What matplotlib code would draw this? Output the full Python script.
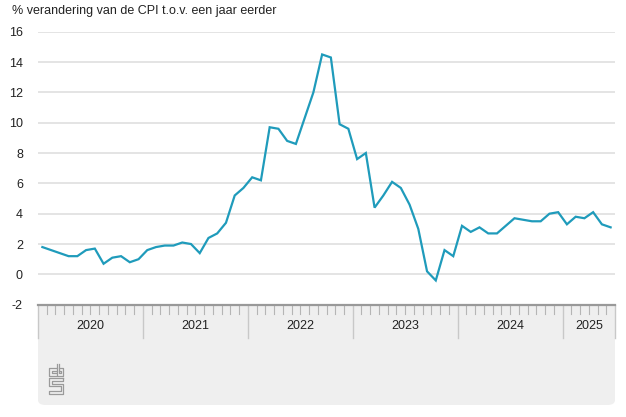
import numpy as np
import matplotlib
matplotlib.use("Agg")
import matplotlib.pyplot as plt
from matplotlib.patches import FancyBboxPatch, Rectangle

plt.rcParams['font.family'] = ['Liberation Sans', 'DejaVu Sans']

# CPI, % verandering t.o.v. een jaar eerder, jan 2020 - jun 2025
cpi_2020 = [1.8, 1.6, 1.4, 1.2, 1.2, 1.6, 1.7, 0.7, 1.1, 1.2, 0.8, 1.0]
cpi_2021 = [1.6, 1.8, 1.9, 1.9, 2.1, 2.0, 1.4, 2.4, 2.7, 3.4, 5.2, 5.7]
cpi_2022 = [6.4, 6.2, 9.7, 9.6, 8.8, 8.6, 10.3, 12.0, 14.5, 14.3, 9.9, 9.6]
cpi_2023 = [7.6, 8.0, 4.4, 5.2, 6.1, 5.7, 4.6, 3.0, 0.2, -0.4, 1.6, 1.2]
cpi_2024 = [3.2, 2.8, 3.1, 2.7, 2.7, 3.2, 3.7, 3.6, 3.5, 3.5, 4.0, 4.1]
cpi_2025 = [3.3, 3.8, 3.7, 4.1, 3.3, 3.1]
years = ['2020', '2021', '2022', '2023', '2024', '2025']
yticks = [-2, 0, 2, 4, 6, 8, 10, 12, 14, 16]

cpi = cpi_2020 + cpi_2021 + cpi_2022 + cpi_2023 + cpi_2024 + cpi_2025
nmonths = len(cpi)
x = np.arange(nmonths) + 0.5

W, H = 626, 417
fig = plt.figure(figsize=(W / 100, H / 100), dpi=100)

left, right = 38 / W, 615 / W
bottom, top = (H - 304.7) / H, (H - 31.7) / H
axh = 304.7 - 31.7

# grijs paneel onder de as
panel = FancyBboxPatch((left, (H - 405) / H), right - left, (405 - 304.7) / H,
                       boxstyle="round,pad=0,rounding_size=0.012",
                       transform=fig.transFigure, facecolor='#efefef',
                       edgecolor='none', zorder=-2)
fig.patches.append(panel)
fig.patches.append(Rectangle((left, (H - 330) / H), right - left, 25 / H,
                             transform=fig.transFigure, facecolor='#efefef',
                             edgecolor='none', zorder=-2))

ax = fig.add_axes([left, bottom, right - left, top - bottom])
ax.patch.set_alpha(0)
ax.set_xlim(0, nmonths)
ax.set_ylim(-2, 16)

for y in yticks[1:]:
    ax.axhline(y, color='#dcdcdc', lw=1.1, zorder=1)

ax.plot(x, cpi, color='#1f9bbb', lw=1.6, zorder=3, solid_joinstyle='miter')

for s in ax.spines.values():
    s.set_visible(False)
ax.set_yticks(yticks)
ax.set_yticklabels([str(v) for v in yticks])
ax.tick_params(axis='y', length=0, pad=10.8, labelsize=9, labelcolor='#222222')
ax.set_xticks([])

# tijdas in het paneel
trans = ax.get_xaxis_transform()
ax.plot([0, nmonths], [0, 0], transform=trans, color='#999999', lw=1.6,
        clip_on=False, zorder=4)
for m in range(nmonths + 1):
    if m % 12 == 0 or m == nmonths:
        ax.plot([m, m], [0, -33 / axh], transform=trans,
                color='#c8c8c8', lw=1.0, clip_on=False)
    else:
        ax.plot([m, m], [0, -9 / axh], transform=trans,
                color='#b5b5b5', lw=0.8, clip_on=False)
for i, yr in enumerate(years):
    start = i * 12
    end = min(start + 12, nmonths)
    ax.text((start + end) / 2, -21.5 / axh, yr, transform=trans,
            ha='center', va='center', fontsize=9, color='#222222')

fig.text(12 / W, (H - 11) / H, '% verandering van de CPI t.o.v. een jaar eerder',
         ha='left', va='center', fontsize=9, color='#222222')

# cbs logo (vereenvoudigd), pixelcoordinaten
lx, ly, sc = 49, 364, 1.3
logo = [
    [(5, 3), (0, 3), (0, 9), (5, 9)],
    [(5, 5), (2, 5), (2, 7), (5, 7)],
    [(6, 0), (6, 9), (11, 9), (11, 3), (8, 3)],
    [(8, 0), (8, 7), (9, 7), (9, 5), (8, 5)],
    [(11, 11), (0, 11), (0, 17), (9, 17), (9, 21), (0, 21), (0, 23), (11, 23),
     (11, 15), (2, 15), (2, 13), (11, 13), (11, 11)],
]
for pts in logo:
    px = [(lx + sc * p[0]) / W for p in pts]
    py = [(H - ly - sc * p[1]) / H for p in pts]
    fig.add_artist(plt.Line2D(px, py, color='#9a9a9a', lw=0.9))

fig.savefig('out.png', dpi=100)
